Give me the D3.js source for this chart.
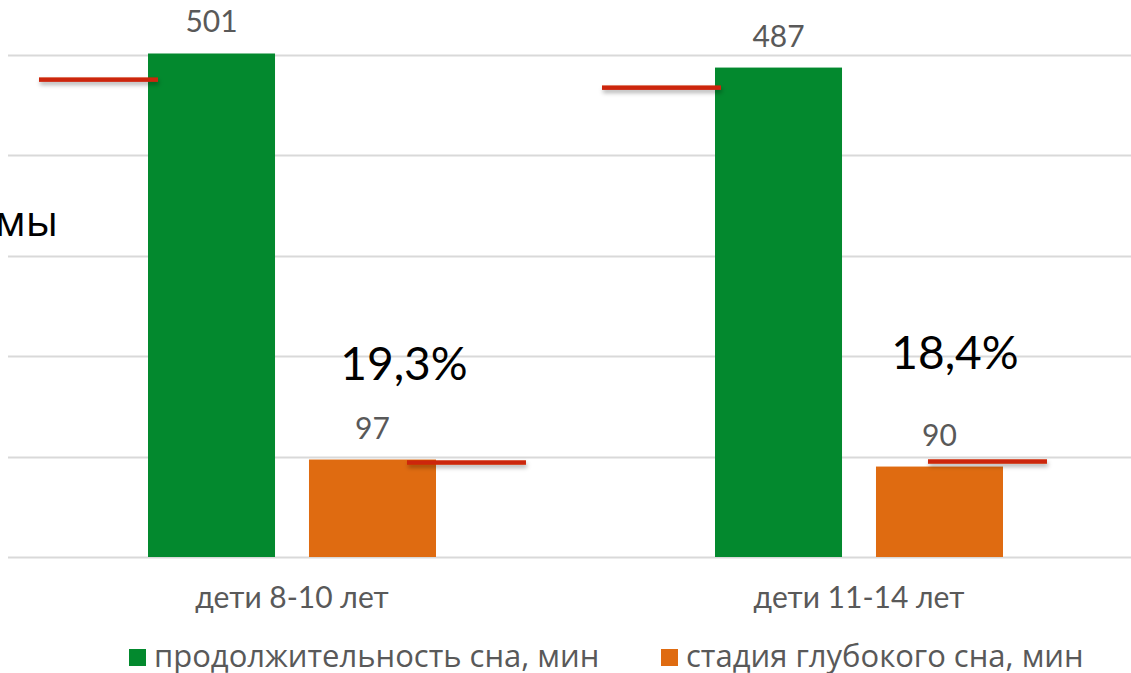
<!DOCTYPE html>
<html>
<head>
<meta charset="utf-8">
<script src="https://cdn.jsdelivr.net/npm/d3@7"></script>
<style>
  html, body { margin: 0; padding: 0; background: #fff; }
  svg { display: block; }
</style>
</head>
<body>
<svg id="chart" width="1131" height="673"></svg>
<script>
// data
var categories = ["дети 8-10 лет", "дети 11-14 лет"];
var seriesNames = ["продолжительность сна, мин", "стадия глубокого сна, мин"];
var sleepTotal = [501, 487];
var sleepDeep = [97, 90];
var normTotal = [475, 467];
var normDeep = [94, 95];
var deepShare = ["19,3%", "18,4%"];
var yTicks = [0, 100, 200, 300, 400, 500];
var sideLabel = "нормы";

// layout bits (not data)
var colors = ["#03892e", "#df6b11"];
var normColor = "#cc2608";
var normLen = 119;
var normShift = [[-109, 98], [-113, 52]];   // start of red marker relative to bar x
var pctPos = [[404, 380], [955, 369]];

var svg = d3.select("#chart");

var defs = svg.append("defs");
var f = defs.append("filter").attr("id", "shadow")
    .attr("x", "-10%").attr("y", "-150%").attr("width", "125%").attr("height", "450%");
f.append("feDropShadow").attr("dx", 1).attr("dy", 3).attr("stdDeviation", 2)
    .attr("flood-color", "#000").attr("flood-opacity", 0.3);

var x0 = d3.scaleBand()
    .domain(categories)
    .range([8.5, 1142.5])
    .padding(0);

var x1 = d3.scaleBand()
    .domain(seriesNames)
    .range([139.5, 427.5])
    .paddingInner(0.211)
    .paddingOuter(0);

var y = d3.scaleLinear()
    .domain([0, 500])
    .range([557, 54.5]);

// gridlines
svg.append("g").attr("class", "grid")
    .selectAll("line")
    .data(yTicks)
    .enter().append("line")
    .attr("x1", 8).attr("x2", 1131)
    .attr("y1", function(d) { return Math.round(y(d)) + 0.5; })
    .attr("y2", function(d) { return Math.round(y(d)) + 0.5; })
    .attr("stroke", "#d9d9d9")
    .attr("stroke-width", 2);

// side label, cropped at left edge
svg.append("text")
    .attr("x", 58).attr("y", 236)
    .attr("text-anchor", "end")
    .attr("font-family", "'Open Sans', sans-serif")
    .attr("font-size", 42)
    .attr("fill", "#000")
    .text(sideLabel);

var rows = categories.map(function(c, i) {
    return {cat: c, i: i, vals: [sleepTotal[i], sleepDeep[i]], norms: [normTotal[i], normDeep[i]]};
});

var groups = svg.selectAll("g.group")
    .data(rows)
    .enter().append("g")
    .attr("class", "group")
    .attr("transform", function(d) { return "translate(" + x0(d.cat) + ",0)"; });

groups.selectAll("rect.bar")
    .data(function(d) { return d.vals.map(function(v, j) { return {v: v, j: j}; }); })
    .enter().append("rect")
    .attr("class", "bar")
    .attr("x", function(d) { return x1(seriesNames[d.j]); })
    .attr("width", x1.bandwidth())
    .attr("y", function(d) { return y(d.v); })
    .attr("height", function(d) { return y(0) - y(d.v); })
    .attr("fill", function(d) { return colors[d.j]; });

groups.selectAll("text.val")
    .data(function(d) { return d.vals.map(function(v, j) { return {v: v, j: j}; }); })
    .enter().append("text")
    .attr("class", "val")
    .attr("x", function(d) { return x1(seriesNames[d.j]) + x1.bandwidth() / 2; })
    .attr("y", function(d) { return y(d.v) - 21; })
    .attr("text-anchor", "middle")
    .attr("font-family", "Lato, sans-serif")
    .attr("font-size", 30)
    .attr("fill", "#595959")
    .text(function(d) { return d.v; });

// norm markers (thin rects so the shadow filter has a real box)
groups.selectAll("rect.norm")
    .data(function(d) { return d.norms.map(function(v, j) { return {v: v, j: j, i: d.i}; }); })
    .enter().append("rect")
    .attr("class", "norm")
    .attr("x", function(d) { return x1(seriesNames[d.j]) + normShift[d.i][d.j]; })
    .attr("width", normLen)
    .attr("y", function(d) { return y(d.v) - 2.25; })
    .attr("height", 4.5)
    .attr("fill", normColor)
    .attr("filter", "url(#shadow)");

// category labels
groups.append("text")
    .attr("x", x0.bandwidth() / 2)
    .attr("y", 608)
    .attr("text-anchor", "middle")
    .attr("font-family", "Lato, sans-serif")
    .attr("font-size", 30)
    .attr("fill", "#595959")
    .text(function(d) { return d.cat; });

// share of deep sleep
svg.selectAll("text.pct")
    .data(deepShare)
    .enter().append("text")
    .attr("class", "pct")
    .attr("x", function(d, i) { return pctPos[i][0]; })
    .attr("y", function(d, i) { return pctPos[i][1]; })
    .attr("text-anchor", "middle")
    .attr("font-family", "Lato, sans-serif")
    .attr("font-size", 46)
    .attr("fill", "#000")
    .text(function(d) { return d; });

// legend
var legX = [129, 661];
var leg = svg.selectAll("g.legend")
    .data(seriesNames)
    .enter().append("g")
    .attr("class", "legend")
    .attr("transform", function(d, i) { return "translate(" + legX[i] + ",0)"; });

leg.append("rect")
    .attr("x", 0).attr("y", 649)
    .attr("width", 17).attr("height", 17)
    .attr("fill", function(d, i) { return colors[i]; });

leg.append("text")
    .attr("x", 25).attr("y", 667)
    .attr("font-family", "'Open Sans', sans-serif")
    .attr("font-size", 31)
    .attr("fill", "#595959")
    .text(function(d) { return d; });
</script>
</body>
</html>
